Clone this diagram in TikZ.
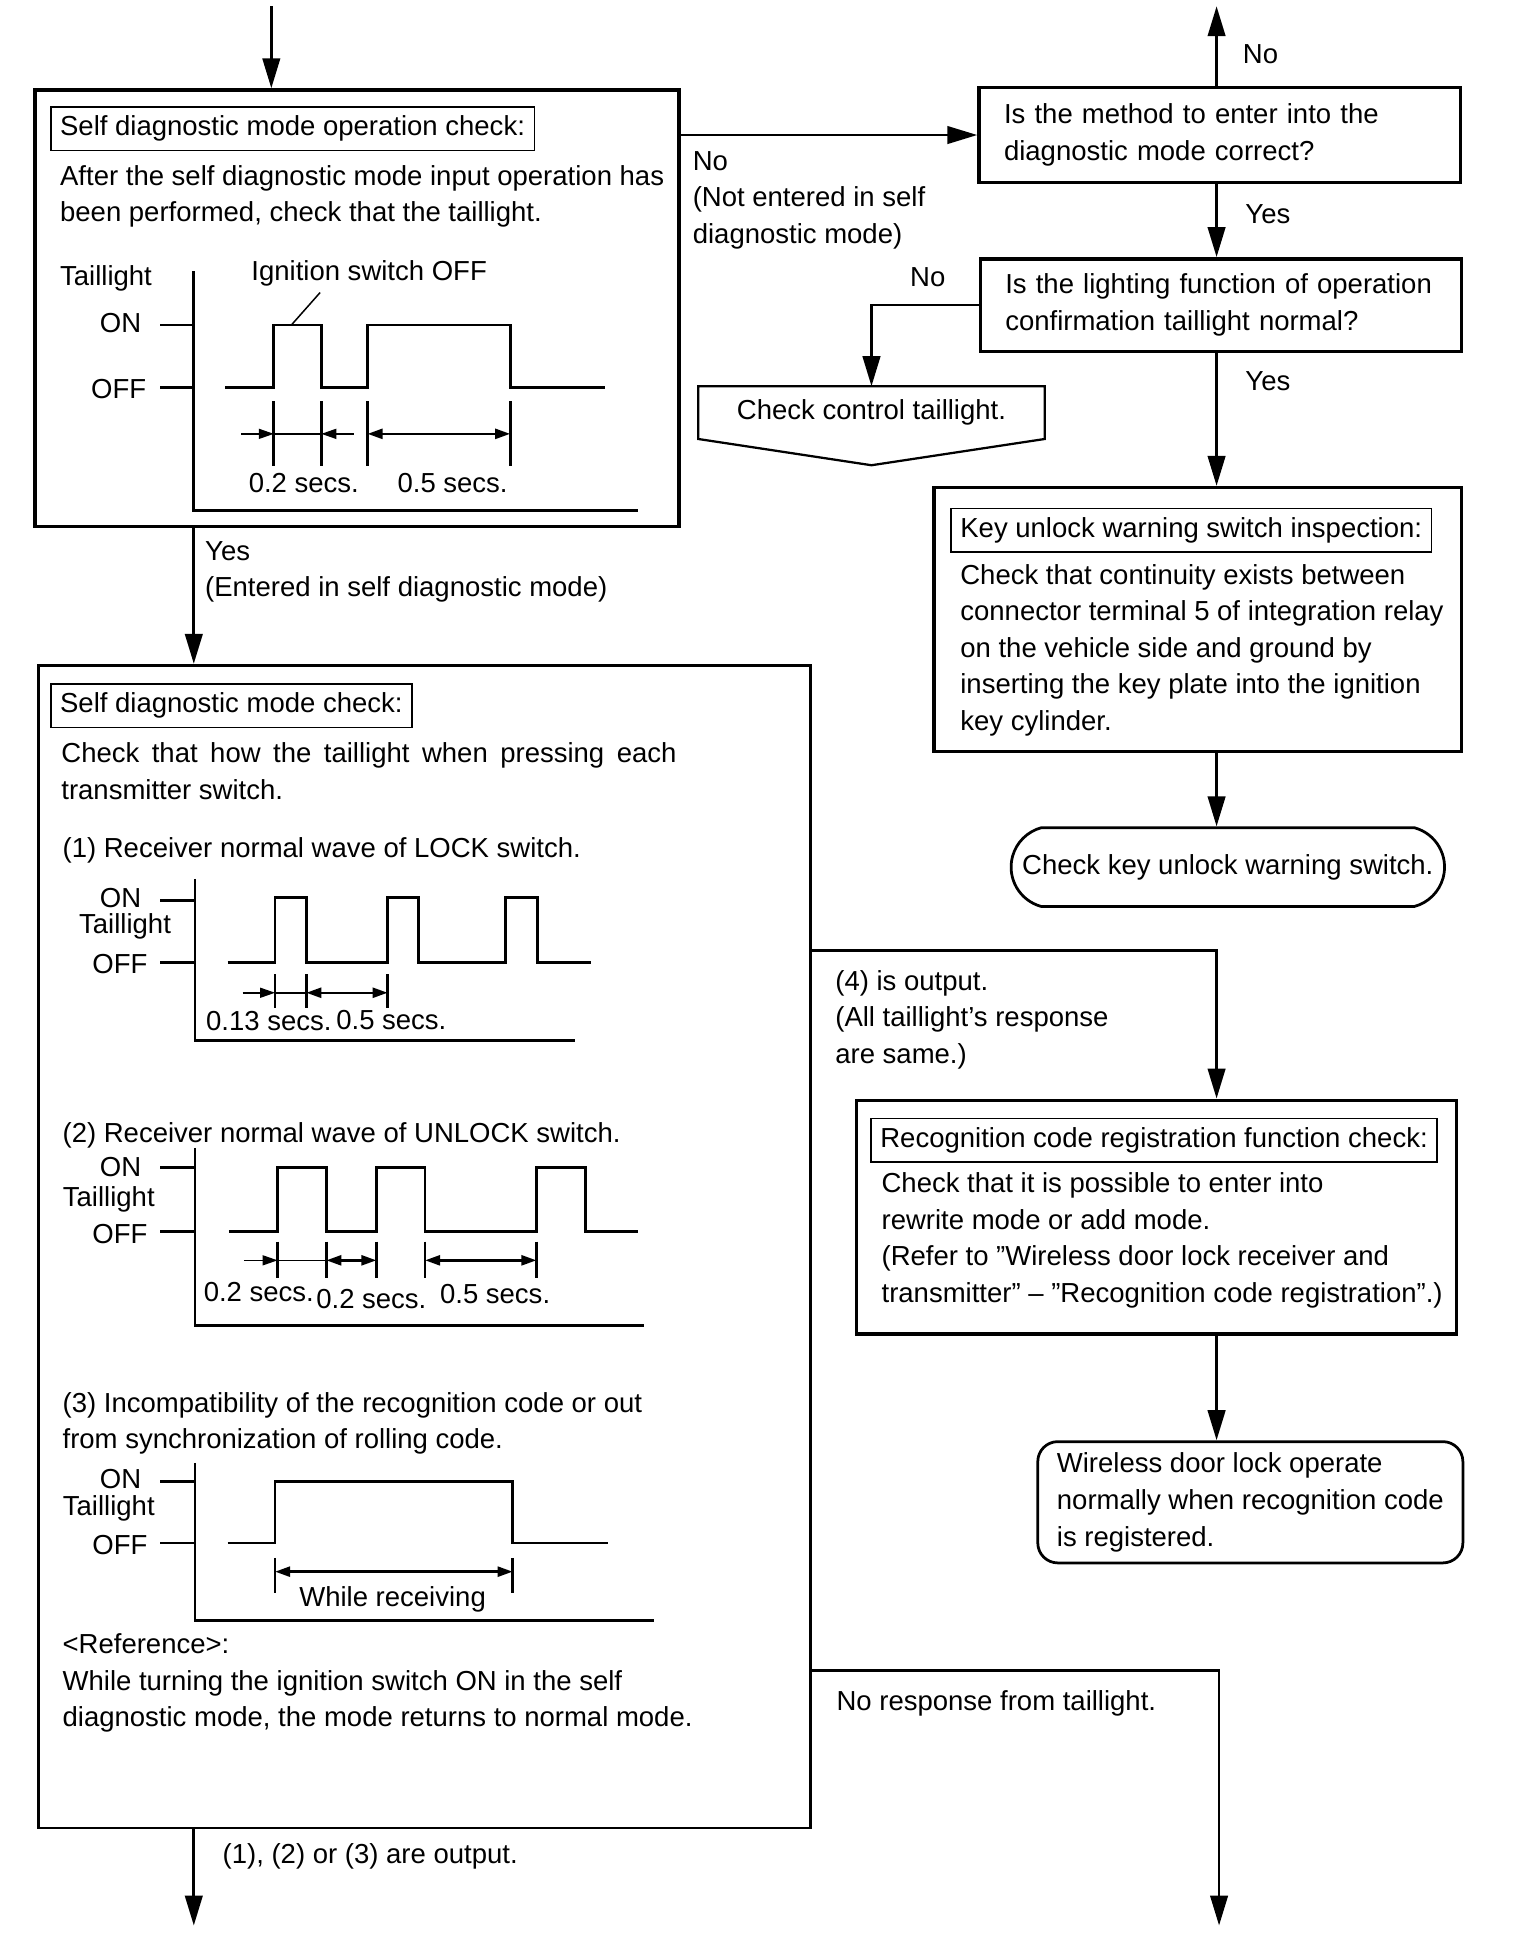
\documentclass[tikz,border=0pt]{standalone}
\usepackage{fontspec}
\setmainfont{Liberation Sans}
\usetikzlibrary{arrows.meta,shapes,positioning,calc,fit}

\begin{document}
\begin{tikzpicture}[
    x=0.5pt, y=-0.5pt,
    font=\fontsize{11}{14.65}\selectfont,
    line width=1.1pt,
    arr/.style={-{Triangle[length=12pt,width=7pt]}},
    arrhead/.style={line width=0.6pt, -{Triangle[length=6pt,width=4pt]}},
    dimarr/.style={line width=1pt, {Triangle[length=6pt,width=4pt]}-{Triangle[length=6pt,width=4pt]}},
    hair/.style={line width=0.6pt},
    thickbox/.style={draw, line width=1.4pt, inner sep=0pt},
    qbox/.style={draw, line width=1.4pt, text width=172.5pt, inner xsep=10pt, align=left},
    titlebox/.style={draw, line width=0.6pt, inner xsep=3.75pt, minimum height=17.5pt, anchor=west},
    txt/.style={inner sep=0pt, align=left, anchor=west},
    lbl/.style={inner sep=0pt}
]
    \path[fill=white] (0,0) rectangle (1216,1566);

    % boxes
    \node[thickbox, fit={(28,72) (543,421)}] (opchk) {};
    \node[titlebox] (opchkt) at (40,103) {Self diagnostic mode operation check:};
    \node[txt] (opchkb) at (47,157) {After the self diagnostic mode input operation has\\been performed, check that the taillight.};

    \node[qbox, minimum height=38pt] (method) at (975.5,108) {Is the method to enter into the\\diagnostic mode correct?};
    \node[qbox, minimum height=37pt] (lamp) at (976.5,244) {Is the lighting function of operation\\confirmation taillight normal?};

    \node[minimum width=137.5pt, minimum height=20pt, inner sep=0pt] (ctrl) at (697,330) {Check control taillight.};
    \draw[line width=0.9pt] (ctrl.north west) -- (ctrl.north east) -- (ctrl.south east)
        -- ($(ctrl.south)+(0,21)$) -- (ctrl.south west) -- cycle;

    \node[thickbox, fit={(747,390) (1169,601)}] (keyinsp) {};
    \node[titlebox] (keyinspt) at (760,424) {Key unlock warning switch inspection:};
    \node[txt] (keyinspb) at (767,520) {Check that continuity exists between\\connector terminal 5 of integration relay\\on the vehicle side and ground by\\inserting the key plate into the ignition\\key cylinder.};

    \node[draw, line width=1.1pt, rounded rectangle, rounded rectangle arc length=150, minimum width=180pt,
        minimum height=31.5pt] (keysw) at (982,693.5) {Check key unlock warning switch.};

    \node[draw, fit={(31,532) (648,1462)}, inner sep=0pt] (selfchk) {};
    \node[titlebox] (selfchkt) at (40,564.5) {Self diagnostic mode check:};
    \node[txt] (selfchkb) at (48,617) {\makebox[246pt][s]{Check that how the taillight when pressing each}\\transmitter switch.};

    \node[thickbox, fit={(685,880) (1165,1067)}] (regchk) {};
    \node[titlebox] (regchkt) at (696,912) {Recognition code registration function check:};
    \node[txt] (regchkb) at (704,992) {Check that it is possible to enter into\\rewrite mode or add mode.\\(Refer to ”Wireless door lock receiver and\\transmitter” – ”Recognition code registration”.)};

    \node[draw, rounded corners=8pt, minimum width=170pt, minimum height=48.5pt, align=left,
        inner xsep=6pt] (wdl) at (1000,1201.5) {Wireless door lock operate\\normally when recognition code\\is registered.};

    % connectors
    \coordinate (in) at (217,5);
    \coordinate (rc) at (973,5);
    \coordinate (lc) at (155,1540);
    \coordinate (y4) at (0,760);
    \coordinate (y5) at (0,1336);
    \coordinate (noresp) at (975,1540);
    \draw[arr] (in) -- (in |- opchk.north);
    \draw[arr] (opchk.east |- method.west) -- (method.west);
    \draw[arr] (rc |- method.north) -- (rc);
    \draw[arr] (rc |- method.south) -- (rc |- lamp.north);
    \draw[arr] (lamp.west) -| (ctrl.north);
    \draw[arr] (rc |- lamp.south) -- (rc |- keyinsp.north);
    \draw[arr] (rc |- keyinsp.south) -- (rc |- keysw.north);
    \draw[arr] (lc |- opchk.south) -- (lc |- selfchk.north);
    \draw[arr] (lc |- selfchk.south) -- (lc);
    \draw[arr] (selfchk.east |- y4) -| (rc |- regchk.north);
    \draw[arr] (rc |- regchk.south) -- (rc |- wdl.north);
    \draw[arr] (selfchk.east |- y5) -| (noresp);

    % connector labels
    \node[txt] (noA) at (553,160) {No\\(Not entered in self\\diagnostic mode)};
    \node[txt] (noB) at (993,43) {No};
    \node[txt] (yesB) at (995,171) {Yes};
    \node[lbl] (noC) at (742,222) {No};
    \node[txt] (yesC) at (995,305) {Yes};
    \node[txt] (yesA) at (163,457.5) {Yes\\(Entered in self diagnostic mode)};
    \node[txt] (out4) at (667,815.5) {(4) is output.\\(All taillight’s response\\are same.)};
    \node[txt] (out123) at (177,1485) {(1), (2) or (3) are output.};
    \node[txt] (outnone) at (668,1362) {No response from taillight.};

    % chart: operation check
    \node[txt] (tlA) at (47,223) {Taillight};
    \node[lbl, anchor=east] (onA) at (114,258) {ON};
    \node[lbl, anchor=east] (offA) at (118,311) {OFF};
    \node[txt] (ignA) at (200,219) {Ignition switch OFF};
    \draw (128,260) -- (155,260) (128,310) -- (155,310);
    \draw (155,217) -- (155,408) -- (510,408);
    \draw (180,310) -- (219,310) -- (219,260) -- (257,260) -- (257,310) -- (294,310)
        -- (294,260) -- (408,260) -- (408,310) -- (484,310);
    \draw[hair] (256,234) -- (233,260);
    \foreach \x in {219,257,294,408} \draw (\x,321) -- (\x,373);
    \draw[arrhead] (193,347) -- (219,347);
    \draw[hair] (219,347) -- (257,347);
    \draw[arrhead] (283,347) -- (257,347);
    \draw[dimarr] (294,347) -- (408,347);
    \node[lbl] (tA1) at (243,386) {0.2 secs.};
    \node[lbl] (tA2) at (362,386) {0.5 secs.};

    % chart (1)
    \node[txt] (lock) at (49,680) {(1) Receiver normal wave of LOCK switch.};
    \node[lbl, anchor=east] (on1) at (114,718) {ON};
    \node[lbl] (tl1) at (100,741) {Taillight};
    \node[lbl, anchor=east] (off1) at (119,771) {OFF};
    \draw (128,720) -- (156,720) (128,770) -- (156,770);
    \draw (156,703) -- (156,832) -- (460,832);
    \draw (182,770) -- (220,770) -- (220,718) -- (245,718) -- (245,770) -- (310,770)
        -- (310,718) -- (335,718) -- (335,770) -- (404,770) -- (404,718) -- (430,718)
        -- (430,770) -- (473,770);
    \foreach \x in {220,245,310} \draw (\x,779) -- (\x,806);
    \draw[arrhead] (194,794) -- (220,794);
    \draw[hair] (220,794) -- (245,794);
    \draw[dimarr] (245,794) -- (310,794);
    \node[lbl] (t11) at (215,817) {0.13 secs.};
    \node[lbl] (t12) at (313,816) {0.5 secs.};

    % chart (2)
    \node[txt] (unlock) at (49,908) {(2) Receiver normal wave of UNLOCK switch.};
    \node[lbl, anchor=east] (on2) at (114,933) {ON};
    \node[lbl] (tl2) at (87,959) {Taillight};
    \node[lbl, anchor=east] (off2) at (119,987) {OFF};
    \draw (128,934) -- (156,934) (128,985) -- (156,985);
    \draw (156,918) -- (156,1060) -- (515,1060);
    \draw (183,985) -- (222,985) -- (222,934) -- (261,934) -- (261,985) -- (301,985)
        -- (301,934) -- (340,934) -- (340,985) -- (429,985) -- (429,934) -- (468,934)
        -- (468,985) -- (510,985);
    \foreach \x in {222,261,301,340,429} \draw (\x,993) -- (\x,1022);
    \draw[arrhead] (195,1008) -- (222,1008);
    \draw[hair] (222,1008) -- (261,1008);
    \draw[dimarr] (261,1008) -- (301,1008);
    \draw[dimarr] (340,1008) -- (429,1008);
    \node[lbl] (t21) at (207,1033) {0.2 secs.};
    \node[lbl] (t22) at (297,1039) {0.2 secs.};
    \node[lbl] (t23) at (396,1035) {0.5 secs.};

    % chart (3)
    \node[txt] (incomp) at (49,1138.5) {(3) Incompatibility of the recognition code or out\\from synchronization of rolling code.};
    \node[lbl, anchor=east] (on3) at (114,1183) {ON};
    \node[lbl] (tl3) at (87,1206) {Taillight};
    \node[lbl, anchor=east] (off3) at (119,1236) {OFF};
    \draw (128,1185) -- (156,1185) (128,1234) -- (156,1234);
    \draw (156,1170) -- (156,1296) -- (523,1296);
    \draw (182,1234) -- (220,1234) -- (220,1185) -- (410,1185) -- (410,1234) -- (486,1234);
    \foreach \x in {220,410} \draw (\x,1246) -- (\x,1274);
    \draw[dimarr] (220,1257) -- (410,1257);
    \node[lbl] (t31) at (314,1279) {While receiving};

    \node[txt] (refer) at (49,1346) {<Reference>:\\While turning the ignition switch ON in the self\\diagnostic mode, the mode returns to normal mode.};
\end{tikzpicture}
\end{document}
